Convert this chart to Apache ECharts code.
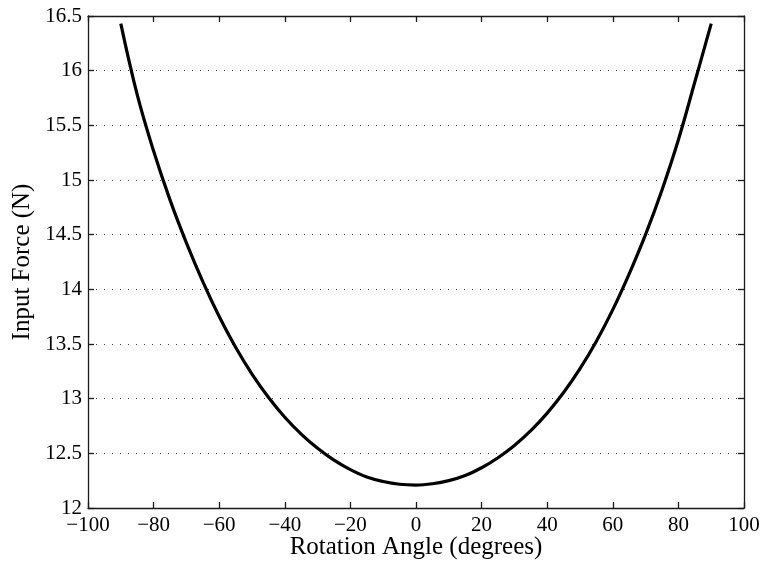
<!DOCTYPE html>
<html>
<head>
<meta charset="utf-8">
<script src="https://cdn.jsdelivr.net/npm/echarts@6/dist/echarts.min.js"></script>
<style>html,body{margin:0;padding:0;background:#fff}#c{width:763px;height:567px}</style>
</head>
<body>
<div id="c"></div>
<script>
const angles = [-90,-85,-80,-75,-70,-65,-60,-55,-50,-45,-40,-35,-30,-25,-20,-15,-10,-5,0,5,10,15,20,25,30,35,40,45,50,55,60,65,70,75,80,85,90];
const forces = [16.43,15.78,15.265,14.818,14.425,14.07,13.751,13.47,13.225,13.013,12.83,12.676,12.546,12.438,12.351,12.283,12.242,12.217,12.21,12.222,12.25,12.297,12.368,12.46,12.572,12.707,12.868,13.056,13.274,13.525,13.814,14.141,14.502,14.909,15.368,15.896,16.43];
const xTicks = {min: -100, max: 100, interval: 20};
const yTicks = {min: 12, max: 16.5, interval: 0.5};
const xName = 'Rotation Angle (degrees)';
const yName = 'Input Force (N)';

const font = '"Liberation Serif", "Times New Roman", serif';
const fmt = v => String(Math.round(v*10)/10).replace('-', '\u2212');
const lineStyle = {color: '#1a1a1a', width: 1.3};
const chart = echarts.init(document.getElementById('c'), null, {renderer: 'canvas'});
chart.setOption({
  animation: false,
  backgroundColor: '#fff',
  grid: {left: 88, right: 19, top: 16, bottom: 59, containLabel: false, outerBoundsMode: 'none'},
  xAxis: [{
    type: 'value', min: xTicks.min, max: xTicks.max, interval: xTicks.interval,
    name: xName, nameLocation: 'middle', nameGap: 27, nameMoveOverlap: false,
    nameTextStyle: {fontFamily: font, fontSize: 25, color: '#000'},
    axisLine: {show: true, onZero: false, lineStyle},
    axisTick: {show: true, inside: true, length: 6, lineStyle},
    axisLabel: {fontFamily: font, fontSize: 21, color: '#000', margin: 7, formatter: fmt},
    splitLine: {show: false}
  }, {
    type: 'value', position: 'top', min: xTicks.min, max: xTicks.max, interval: xTicks.interval,
    axisLine: {show: true, onZero: false, lineStyle},
    axisTick: {show: true, inside: true, length: 6, lineStyle},
    axisLabel: {show: false}, splitLine: {show: false}
  }],
  yAxis: [{
    type: 'value', min: yTicks.min, max: yTicks.max, interval: yTicks.interval,
    name: yName, nameLocation: 'middle', nameGap: 53, nameMoveOverlap: false,
    nameTextStyle: {fontFamily: font, fontSize: 25, color: '#000'},
    axisLine: {show: true, onZero: false, lineStyle},
    axisTick: {show: true, inside: true, length: 6, lineStyle},
    axisLabel: {fontFamily: font, fontSize: 21, color: '#000', margin: 6, formatter: fmt},
    splitLine: {show: true, lineStyle: {type: [1, 7], color: '#444', width: 1}}
  }, {
    type: 'value', position: 'right', min: yTicks.min, max: yTicks.max, interval: yTicks.interval,
    axisLine: {show: true, onZero: false, lineStyle},
    axisTick: {show: true, inside: true, length: 6, lineStyle},
    axisLabel: {show: false}, splitLine: {show: false}
  }],
  series: [{
    type: 'line', xAxisIndex: 0, yAxisIndex: 0,
    data: angles.map((a, i) => [a, forces[i]]),
    showSymbol: false, smooth: 0.4,
    lineStyle: {color: '#000', width: 3.2},
    z: 5
  }]
});
</script>
</body>
</html>
